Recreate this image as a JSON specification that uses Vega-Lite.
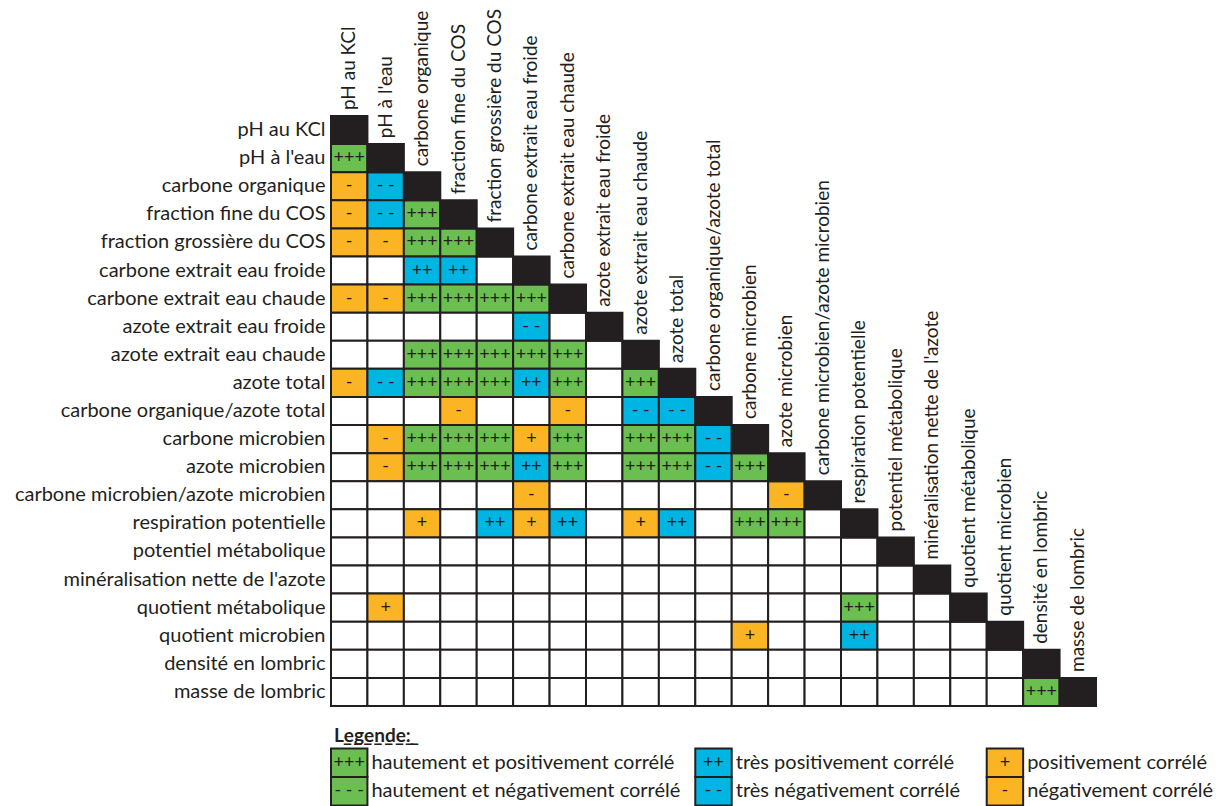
{
  "$schema": "https://vega.github.io/schema/vega-lite/v6.json",
  "background": "white",
  "padding": {"left": 14, "top": 8, "right": 0, "bottom": 0},
  "spacing": 13,
  "config": {"view": {"stroke": null}, "font": "Lato", "text": {"font": "Lato", "color": "#231F20"}},
  "datasets": {
    "variables": [
      {"ligne": "pH au KCl", "colonne": "pH au KCl"},
      {"ligne": "pH à l'eau", "colonne": "pH à l'eau"},
      {"ligne": "carbone organique", "colonne": "carbone organique"},
      {"ligne": "fraction fine du COS", "colonne": "fraction fine du COS"},
      {"ligne": "fraction grossière du COS", "colonne": "fraction grossière du COS"},
      {"ligne": "carbone extrait eau froide", "colonne": "carbone extrait eau froide"},
      {"ligne": "carbone extrait eau chaude", "colonne": "carbone extrait eau chaude"},
      {"ligne": "azote extrait eau froide", "colonne": "azote extrait eau froide"},
      {"ligne": "azote extrait eau chaude", "colonne": "azote extrait eau chaude"},
      {"ligne": "azote total", "colonne": "azote total"},
      {"ligne": "carbone organique/azote total", "colonne": "carbone organique/azote total"},
      {"ligne": "carbone microbien", "colonne": "carbone microbien"},
      {"ligne": "azote microbien", "colonne": "azote microbien"},
      {"ligne": "carbone microbien/azote microbien", "colonne": "carbone microbien/azote microbien"},
      {"ligne": "respiration potentielle", "colonne": "respiration potentielle"},
      {"ligne": "potentiel métabolique", "colonne": "potentiel métabolique"},
      {"ligne": "minéralisation nette de l'azote", "colonne": "minéralisation nette de l'azote"},
      {"ligne": "quotient métabolique", "colonne": "quotient métabolique"},
      {"ligne": "quotient microbien", "colonne": "quotient microbien"},
      {"ligne": "densité en lombric", "colonne": "densité en lombric"},
      {"ligne": "masse de lombric", "colonne": "masse de lombric"}
    ],
    "cellules": [
      {"ligne": "pH à l'eau", "colonne": "pH au KCl", "code": "+++"},

      {"ligne": "carbone organique", "colonne": "pH au KCl", "code": "-"},
      {"ligne": "carbone organique", "colonne": "pH à l'eau", "code": "- -"},

      {"ligne": "fraction fine du COS", "colonne": "pH au KCl", "code": "-"},
      {"ligne": "fraction fine du COS", "colonne": "pH à l'eau", "code": "- -"},
      {"ligne": "fraction fine du COS", "colonne": "carbone organique", "code": "+++"},

      {"ligne": "fraction grossière du COS", "colonne": "pH au KCl", "code": "-"},
      {"ligne": "fraction grossière du COS", "colonne": "pH à l'eau", "code": "-"},
      {"ligne": "fraction grossière du COS", "colonne": "carbone organique", "code": "+++"},
      {"ligne": "fraction grossière du COS", "colonne": "fraction fine du COS", "code": "+++"},

      {"ligne": "carbone extrait eau froide", "colonne": "pH au KCl", "code": ""},
      {"ligne": "carbone extrait eau froide", "colonne": "pH à l'eau", "code": ""},
      {"ligne": "carbone extrait eau froide", "colonne": "carbone organique", "code": "++"},
      {"ligne": "carbone extrait eau froide", "colonne": "fraction fine du COS", "code": "++"},
      {"ligne": "carbone extrait eau froide", "colonne": "fraction grossière du COS", "code": ""},

      {"ligne": "carbone extrait eau chaude", "colonne": "pH au KCl", "code": "-"},
      {"ligne": "carbone extrait eau chaude", "colonne": "pH à l'eau", "code": "-"},
      {"ligne": "carbone extrait eau chaude", "colonne": "carbone organique", "code": "+++"},
      {"ligne": "carbone extrait eau chaude", "colonne": "fraction fine du COS", "code": "+++"},
      {"ligne": "carbone extrait eau chaude", "colonne": "fraction grossière du COS", "code": "+++"},
      {"ligne": "carbone extrait eau chaude", "colonne": "carbone extrait eau froide", "code": "+++"},

      {"ligne": "azote extrait eau froide", "colonne": "pH au KCl", "code": ""},
      {"ligne": "azote extrait eau froide", "colonne": "pH à l'eau", "code": ""},
      {"ligne": "azote extrait eau froide", "colonne": "carbone organique", "code": ""},
      {"ligne": "azote extrait eau froide", "colonne": "fraction fine du COS", "code": ""},
      {"ligne": "azote extrait eau froide", "colonne": "fraction grossière du COS", "code": ""},
      {"ligne": "azote extrait eau froide", "colonne": "carbone extrait eau froide", "code": "- -"},
      {"ligne": "azote extrait eau froide", "colonne": "carbone extrait eau chaude", "code": ""},

      {"ligne": "azote extrait eau chaude", "colonne": "pH au KCl", "code": ""},
      {"ligne": "azote extrait eau chaude", "colonne": "pH à l'eau", "code": ""},
      {"ligne": "azote extrait eau chaude", "colonne": "carbone organique", "code": "+++"},
      {"ligne": "azote extrait eau chaude", "colonne": "fraction fine du COS", "code": "+++"},
      {"ligne": "azote extrait eau chaude", "colonne": "fraction grossière du COS", "code": "+++"},
      {"ligne": "azote extrait eau chaude", "colonne": "carbone extrait eau froide", "code": "+++"},
      {"ligne": "azote extrait eau chaude", "colonne": "carbone extrait eau chaude", "code": "+++"},
      {"ligne": "azote extrait eau chaude", "colonne": "azote extrait eau froide", "code": ""},

      {"ligne": "azote total", "colonne": "pH au KCl", "code": "-"},
      {"ligne": "azote total", "colonne": "pH à l'eau", "code": "- -"},
      {"ligne": "azote total", "colonne": "carbone organique", "code": "+++"},
      {"ligne": "azote total", "colonne": "fraction fine du COS", "code": "+++"},
      {"ligne": "azote total", "colonne": "fraction grossière du COS", "code": "+++"},
      {"ligne": "azote total", "colonne": "carbone extrait eau froide", "code": "++"},
      {"ligne": "azote total", "colonne": "carbone extrait eau chaude", "code": "+++"},
      {"ligne": "azote total", "colonne": "azote extrait eau froide", "code": ""},
      {"ligne": "azote total", "colonne": "azote extrait eau chaude", "code": "+++"},

      {"ligne": "carbone organique/azote total", "colonne": "pH au KCl", "code": ""},
      {"ligne": "carbone organique/azote total", "colonne": "pH à l'eau", "code": ""},
      {"ligne": "carbone organique/azote total", "colonne": "carbone organique", "code": ""},
      {"ligne": "carbone organique/azote total", "colonne": "fraction fine du COS", "code": "-"},
      {"ligne": "carbone organique/azote total", "colonne": "fraction grossière du COS", "code": ""},
      {"ligne": "carbone organique/azote total", "colonne": "carbone extrait eau froide", "code": ""},
      {"ligne": "carbone organique/azote total", "colonne": "carbone extrait eau chaude", "code": "-"},
      {"ligne": "carbone organique/azote total", "colonne": "azote extrait eau froide", "code": ""},
      {"ligne": "carbone organique/azote total", "colonne": "azote extrait eau chaude", "code": "- -"},
      {"ligne": "carbone organique/azote total", "colonne": "azote total", "code": "- -"},

      {"ligne": "carbone microbien", "colonne": "pH au KCl", "code": ""},
      {"ligne": "carbone microbien", "colonne": "pH à l'eau", "code": "-"},
      {"ligne": "carbone microbien", "colonne": "carbone organique", "code": "+++"},
      {"ligne": "carbone microbien", "colonne": "fraction fine du COS", "code": "+++"},
      {"ligne": "carbone microbien", "colonne": "fraction grossière du COS", "code": "+++"},
      {"ligne": "carbone microbien", "colonne": "carbone extrait eau froide", "code": "+"},
      {"ligne": "carbone microbien", "colonne": "carbone extrait eau chaude", "code": "+++"},
      {"ligne": "carbone microbien", "colonne": "azote extrait eau froide", "code": ""},
      {"ligne": "carbone microbien", "colonne": "azote extrait eau chaude", "code": "+++"},
      {"ligne": "carbone microbien", "colonne": "azote total", "code": "+++"},
      {"ligne": "carbone microbien", "colonne": "carbone organique/azote total", "code": "- -"},

      {"ligne": "azote microbien", "colonne": "pH au KCl", "code": ""},
      {"ligne": "azote microbien", "colonne": "pH à l'eau", "code": "-"},
      {"ligne": "azote microbien", "colonne": "carbone organique", "code": "+++"},
      {"ligne": "azote microbien", "colonne": "fraction fine du COS", "code": "+++"},
      {"ligne": "azote microbien", "colonne": "fraction grossière du COS", "code": "+++"},
      {"ligne": "azote microbien", "colonne": "carbone extrait eau froide", "code": "++"},
      {"ligne": "azote microbien", "colonne": "carbone extrait eau chaude", "code": "+++"},
      {"ligne": "azote microbien", "colonne": "azote extrait eau froide", "code": ""},
      {"ligne": "azote microbien", "colonne": "azote extrait eau chaude", "code": "+++"},
      {"ligne": "azote microbien", "colonne": "azote total", "code": "+++"},
      {"ligne": "azote microbien", "colonne": "carbone organique/azote total", "code": "- -"},
      {"ligne": "azote microbien", "colonne": "carbone microbien", "code": "+++"},

      {"ligne": "carbone microbien/azote microbien", "colonne": "pH au KCl", "code": ""},
      {"ligne": "carbone microbien/azote microbien", "colonne": "pH à l'eau", "code": ""},
      {"ligne": "carbone microbien/azote microbien", "colonne": "carbone organique", "code": ""},
      {"ligne": "carbone microbien/azote microbien", "colonne": "fraction fine du COS", "code": ""},
      {"ligne": "carbone microbien/azote microbien", "colonne": "fraction grossière du COS", "code": ""},
      {"ligne": "carbone microbien/azote microbien", "colonne": "carbone extrait eau froide", "code": "-"},
      {"ligne": "carbone microbien/azote microbien", "colonne": "carbone extrait eau chaude", "code": ""},
      {"ligne": "carbone microbien/azote microbien", "colonne": "azote extrait eau froide", "code": ""},
      {"ligne": "carbone microbien/azote microbien", "colonne": "azote extrait eau chaude", "code": ""},
      {"ligne": "carbone microbien/azote microbien", "colonne": "azote total", "code": ""},
      {"ligne": "carbone microbien/azote microbien", "colonne": "carbone organique/azote total", "code": ""},
      {"ligne": "carbone microbien/azote microbien", "colonne": "carbone microbien", "code": ""},
      {"ligne": "carbone microbien/azote microbien", "colonne": "azote microbien", "code": "-"},

      {"ligne": "respiration potentielle", "colonne": "pH au KCl", "code": ""},
      {"ligne": "respiration potentielle", "colonne": "pH à l'eau", "code": ""},
      {"ligne": "respiration potentielle", "colonne": "carbone organique", "code": "+"},
      {"ligne": "respiration potentielle", "colonne": "fraction fine du COS", "code": ""},
      {"ligne": "respiration potentielle", "colonne": "fraction grossière du COS", "code": "++"},
      {"ligne": "respiration potentielle", "colonne": "carbone extrait eau froide", "code": "+"},
      {"ligne": "respiration potentielle", "colonne": "carbone extrait eau chaude", "code": "++"},
      {"ligne": "respiration potentielle", "colonne": "azote extrait eau froide", "code": ""},
      {"ligne": "respiration potentielle", "colonne": "azote extrait eau chaude", "code": "+"},
      {"ligne": "respiration potentielle", "colonne": "azote total", "code": "++"},
      {"ligne": "respiration potentielle", "colonne": "carbone organique/azote total", "code": ""},
      {"ligne": "respiration potentielle", "colonne": "carbone microbien", "code": "+++"},
      {"ligne": "respiration potentielle", "colonne": "azote microbien", "code": "+++"},
      {"ligne": "respiration potentielle", "colonne": "carbone microbien/azote microbien", "code": ""},

      {"ligne": "potentiel métabolique", "colonne": "pH au KCl", "code": ""},
      {"ligne": "potentiel métabolique", "colonne": "pH à l'eau", "code": ""},
      {"ligne": "potentiel métabolique", "colonne": "carbone organique", "code": ""},
      {"ligne": "potentiel métabolique", "colonne": "fraction fine du COS", "code": ""},
      {"ligne": "potentiel métabolique", "colonne": "fraction grossière du COS", "code": ""},
      {"ligne": "potentiel métabolique", "colonne": "carbone extrait eau froide", "code": ""},
      {"ligne": "potentiel métabolique", "colonne": "carbone extrait eau chaude", "code": ""},
      {"ligne": "potentiel métabolique", "colonne": "azote extrait eau froide", "code": ""},
      {"ligne": "potentiel métabolique", "colonne": "azote extrait eau chaude", "code": ""},
      {"ligne": "potentiel métabolique", "colonne": "azote total", "code": ""},
      {"ligne": "potentiel métabolique", "colonne": "carbone organique/azote total", "code": ""},
      {"ligne": "potentiel métabolique", "colonne": "carbone microbien", "code": ""},
      {"ligne": "potentiel métabolique", "colonne": "azote microbien", "code": ""},
      {"ligne": "potentiel métabolique", "colonne": "carbone microbien/azote microbien", "code": ""},
      {"ligne": "potentiel métabolique", "colonne": "respiration potentielle", "code": ""},

      {"ligne": "minéralisation nette de l'azote", "colonne": "pH au KCl", "code": ""},
      {"ligne": "minéralisation nette de l'azote", "colonne": "pH à l'eau", "code": ""},
      {"ligne": "minéralisation nette de l'azote", "colonne": "carbone organique", "code": ""},
      {"ligne": "minéralisation nette de l'azote", "colonne": "fraction fine du COS", "code": ""},
      {"ligne": "minéralisation nette de l'azote", "colonne": "fraction grossière du COS", "code": ""},
      {"ligne": "minéralisation nette de l'azote", "colonne": "carbone extrait eau froide", "code": ""},
      {"ligne": "minéralisation nette de l'azote", "colonne": "carbone extrait eau chaude", "code": ""},
      {"ligne": "minéralisation nette de l'azote", "colonne": "azote extrait eau froide", "code": ""},
      {"ligne": "minéralisation nette de l'azote", "colonne": "azote extrait eau chaude", "code": ""},
      {"ligne": "minéralisation nette de l'azote", "colonne": "azote total", "code": ""},
      {"ligne": "minéralisation nette de l'azote", "colonne": "carbone organique/azote total", "code": ""},
      {"ligne": "minéralisation nette de l'azote", "colonne": "carbone microbien", "code": ""},
      {"ligne": "minéralisation nette de l'azote", "colonne": "azote microbien", "code": ""},
      {"ligne": "minéralisation nette de l'azote", "colonne": "carbone microbien/azote microbien", "code": ""},
      {"ligne": "minéralisation nette de l'azote", "colonne": "respiration potentielle", "code": ""},
      {"ligne": "minéralisation nette de l'azote", "colonne": "potentiel métabolique", "code": ""},

      {"ligne": "quotient métabolique", "colonne": "pH au KCl", "code": ""},
      {"ligne": "quotient métabolique", "colonne": "pH à l'eau", "code": "+"},
      {"ligne": "quotient métabolique", "colonne": "carbone organique", "code": ""},
      {"ligne": "quotient métabolique", "colonne": "fraction fine du COS", "code": ""},
      {"ligne": "quotient métabolique", "colonne": "fraction grossière du COS", "code": ""},
      {"ligne": "quotient métabolique", "colonne": "carbone extrait eau froide", "code": ""},
      {"ligne": "quotient métabolique", "colonne": "carbone extrait eau chaude", "code": ""},
      {"ligne": "quotient métabolique", "colonne": "azote extrait eau froide", "code": ""},
      {"ligne": "quotient métabolique", "colonne": "azote extrait eau chaude", "code": ""},
      {"ligne": "quotient métabolique", "colonne": "azote total", "code": ""},
      {"ligne": "quotient métabolique", "colonne": "carbone organique/azote total", "code": ""},
      {"ligne": "quotient métabolique", "colonne": "carbone microbien", "code": ""},
      {"ligne": "quotient métabolique", "colonne": "azote microbien", "code": ""},
      {"ligne": "quotient métabolique", "colonne": "carbone microbien/azote microbien", "code": ""},
      {"ligne": "quotient métabolique", "colonne": "respiration potentielle", "code": "+++"},
      {"ligne": "quotient métabolique", "colonne": "potentiel métabolique", "code": ""},
      {"ligne": "quotient métabolique", "colonne": "minéralisation nette de l'azote", "code": ""},

      {"ligne": "quotient microbien", "colonne": "pH au KCl", "code": ""},
      {"ligne": "quotient microbien", "colonne": "pH à l'eau", "code": ""},
      {"ligne": "quotient microbien", "colonne": "carbone organique", "code": ""},
      {"ligne": "quotient microbien", "colonne": "fraction fine du COS", "code": ""},
      {"ligne": "quotient microbien", "colonne": "fraction grossière du COS", "code": ""},
      {"ligne": "quotient microbien", "colonne": "carbone extrait eau froide", "code": ""},
      {"ligne": "quotient microbien", "colonne": "carbone extrait eau chaude", "code": ""},
      {"ligne": "quotient microbien", "colonne": "azote extrait eau froide", "code": ""},
      {"ligne": "quotient microbien", "colonne": "azote extrait eau chaude", "code": ""},
      {"ligne": "quotient microbien", "colonne": "azote total", "code": ""},
      {"ligne": "quotient microbien", "colonne": "carbone organique/azote total", "code": ""},
      {"ligne": "quotient microbien", "colonne": "carbone microbien", "code": "+"},
      {"ligne": "quotient microbien", "colonne": "azote microbien", "code": ""},
      {"ligne": "quotient microbien", "colonne": "carbone microbien/azote microbien", "code": ""},
      {"ligne": "quotient microbien", "colonne": "respiration potentielle", "code": "++"},
      {"ligne": "quotient microbien", "colonne": "potentiel métabolique", "code": ""},
      {"ligne": "quotient microbien", "colonne": "minéralisation nette de l'azote", "code": ""},
      {"ligne": "quotient microbien", "colonne": "quotient métabolique", "code": ""},

      {"ligne": "densité en lombric", "colonne": "pH au KCl", "code": ""},
      {"ligne": "densité en lombric", "colonne": "pH à l'eau", "code": ""},
      {"ligne": "densité en lombric", "colonne": "carbone organique", "code": ""},
      {"ligne": "densité en lombric", "colonne": "fraction fine du COS", "code": ""},
      {"ligne": "densité en lombric", "colonne": "fraction grossière du COS", "code": ""},
      {"ligne": "densité en lombric", "colonne": "carbone extrait eau froide", "code": ""},
      {"ligne": "densité en lombric", "colonne": "carbone extrait eau chaude", "code": ""},
      {"ligne": "densité en lombric", "colonne": "azote extrait eau froide", "code": ""},
      {"ligne": "densité en lombric", "colonne": "azote extrait eau chaude", "code": ""},
      {"ligne": "densité en lombric", "colonne": "azote total", "code": ""},
      {"ligne": "densité en lombric", "colonne": "carbone organique/azote total", "code": ""},
      {"ligne": "densité en lombric", "colonne": "carbone microbien", "code": ""},
      {"ligne": "densité en lombric", "colonne": "azote microbien", "code": ""},
      {"ligne": "densité en lombric", "colonne": "carbone microbien/azote microbien", "code": ""},
      {"ligne": "densité en lombric", "colonne": "respiration potentielle", "code": ""},
      {"ligne": "densité en lombric", "colonne": "potentiel métabolique", "code": ""},
      {"ligne": "densité en lombric", "colonne": "minéralisation nette de l'azote", "code": ""},
      {"ligne": "densité en lombric", "colonne": "quotient métabolique", "code": ""},
      {"ligne": "densité en lombric", "colonne": "quotient microbien", "code": ""},

      {"ligne": "masse de lombric", "colonne": "pH au KCl", "code": ""},
      {"ligne": "masse de lombric", "colonne": "pH à l'eau", "code": ""},
      {"ligne": "masse de lombric", "colonne": "carbone organique", "code": ""},
      {"ligne": "masse de lombric", "colonne": "fraction fine du COS", "code": ""},
      {"ligne": "masse de lombric", "colonne": "fraction grossière du COS", "code": ""},
      {"ligne": "masse de lombric", "colonne": "carbone extrait eau froide", "code": ""},
      {"ligne": "masse de lombric", "colonne": "carbone extrait eau chaude", "code": ""},
      {"ligne": "masse de lombric", "colonne": "azote extrait eau froide", "code": ""},
      {"ligne": "masse de lombric", "colonne": "azote extrait eau chaude", "code": ""},
      {"ligne": "masse de lombric", "colonne": "azote total", "code": ""},
      {"ligne": "masse de lombric", "colonne": "carbone organique/azote total", "code": ""},
      {"ligne": "masse de lombric", "colonne": "carbone microbien", "code": ""},
      {"ligne": "masse de lombric", "colonne": "azote microbien", "code": ""},
      {"ligne": "masse de lombric", "colonne": "carbone microbien/azote microbien", "code": ""},
      {"ligne": "masse de lombric", "colonne": "respiration potentielle", "code": ""},
      {"ligne": "masse de lombric", "colonne": "potentiel métabolique", "code": ""},
      {"ligne": "masse de lombric", "colonne": "minéralisation nette de l'azote", "code": ""},
      {"ligne": "masse de lombric", "colonne": "quotient métabolique", "code": ""},
      {"ligne": "masse de lombric", "colonne": "quotient microbien", "code": ""},
      {"ligne": "masse de lombric", "colonne": "densité en lombric", "code": "+++"}
    ],
    "legende": [
      {"rang": "positif", "colonne": "pH au KCl", "code": "+++", "libelle": "hautement et positivement corrélé"},
      {"rang": "négatif", "colonne": "pH au KCl", "code": "- - -", "libelle": "hautement et négativement corrélé"},
      {"rang": "positif", "colonne": "carbone organique/azote total", "code": "++", "libelle": "très positivement corrélé"},
      {"rang": "négatif", "colonne": "carbone organique/azote total", "code": "- -", "libelle": "très négativement corrélé"},
      {"rang": "positif", "colonne": "quotient microbien", "code": "+", "libelle": "positivement corrélé"},
      {"rang": "négatif", "colonne": "quotient microbien", "code": "-", "libelle": "négativement corrélé"}
    ]
  },
  "vconcat": [
    {
      "width": 765,
      "height": 590,
      "encoding": {
        "x": {"field": "colonne", "type": "nominal", "axis": null,
              "scale": {"paddingInner": 0, "paddingOuter": 0, "domain": ["pH au KCl", "pH à l'eau", "carbone organique", "fraction fine du COS", "fraction grossière du COS", "carbone extrait eau froide", "carbone extrait eau chaude", "azote extrait eau froide", "azote extrait eau chaude", "azote total", "carbone organique/azote total", "carbone microbien", "azote microbien", "carbone microbien/azote microbien", "respiration potentielle", "potentiel métabolique", "minéralisation nette de l'azote", "quotient métabolique", "quotient microbien", "densité en lombric", "masse de lombric"]}},
        "y": {"field": "ligne", "type": "nominal",
              "axis": {"title": null, "ticks": false, "domain": false, "labelPadding": 6, "labelFontSize": 20, "labelFont": "Lato", "labelColor": "#231F20", "labelLimit": 500},
              "scale": {"paddingInner": 0, "paddingOuter": 0, "domain": ["pH au KCl", "pH à l'eau", "carbone organique", "fraction fine du COS", "fraction grossière du COS", "carbone extrait eau froide", "carbone extrait eau chaude", "azote extrait eau froide", "azote extrait eau chaude", "azote total", "carbone organique/azote total", "carbone microbien", "azote microbien", "carbone microbien/azote microbien", "respiration potentielle", "potentiel métabolique", "minéralisation nette de l'azote", "quotient métabolique", "quotient microbien", "densité en lombric", "masse de lombric"]}}
      },
      "layer": [
        {
          "data": {"name": "cellules"},
          "mark": {"type": "rect", "stroke": "#231F20", "strokeWidth": 2},
          "encoding": {
            "fill": {"field": "code", "type": "nominal", "legend": null,
                     "scale": {"domain": ["+++", "- - -", "++", "- -", "+", "-", ""], "range": ["#6BBE50", "#6BBE50", "#00B5E2", "#00B5E2", "#FBB524", "#FBB524", "#FFFFFF"]}}
          }
        },
        {
          "data": {"name": "cellules"},
          "mark": {"type": "text", "fontSize": 18, "baseline": "middle", "align": "center", "color": "#231F20"},
          "encoding": {"text": {"field": "code"}}
        },
        {
          "data": {"name": "variables"},
          "mark": {"type": "rect", "fill": "#231F20", "stroke": "#231F20", "strokeWidth": 2}
        },
        {
          "data": {"name": "variables"},
          "mark": {"type": "text", "angle": 270, "align": "left", "baseline": "middle", "dx": 20, "fontSize": 19, "color": "#231F20"},
          "encoding": {"text": {"field": "colonne"}}
        }
      ]
    },
    {
      "width": 765,
      "height": 85.5,
      "data": {"name": "legende"},
      "encoding": {
        "x": {"field": "colonne", "type": "nominal", "axis": null,
              "scale": {"paddingInner": 0, "paddingOuter": 0, "domain": ["pH au KCl", "pH à l'eau", "carbone organique", "fraction fine du COS", "fraction grossière du COS", "carbone extrait eau froide", "carbone extrait eau chaude", "azote extrait eau froide", "azote extrait eau chaude", "azote total", "carbone organique/azote total", "carbone microbien", "azote microbien", "carbone microbien/azote microbien", "respiration potentielle", "potentiel métabolique", "minéralisation nette de l'azote", "quotient métabolique", "quotient microbien", "densité en lombric", "masse de lombric"]}},
        "y": {"field": "rang", "type": "nominal", "axis": null,
              "scale": {"paddingInner": 0, "paddingOuter": 0, "domain": ["titre", "positif", "négatif"]}}
      },
      "layer": [
        {
          "mark": {"type": "rect", "stroke": "#231F20", "strokeWidth": 2},
          "encoding": {
            "fill": {"field": "code", "type": "nominal", "legend": null,
                     "scale": {"domain": ["+++", "- - -", "++", "- -", "+", "-", ""], "range": ["#6BBE50", "#6BBE50", "#00B5E2", "#00B5E2", "#FBB524", "#FBB524", "#FFFFFF"]}}
          }
        },
        {
          "mark": {"type": "text", "fontSize": 18, "baseline": "middle", "align": "center", "color": "#231F20"},
          "encoding": {"text": {"field": "code"}}
        },
        {
          "mark": {"type": "text", "fontSize": 20, "baseline": "middle", "align": "left", "dx": 4, "color": "#231F20"},
          "encoding": {
            "x": {"field": "colonne", "type": "nominal", "bandPosition": 1, "axis": null,
                  "scale": {"paddingInner": 0, "paddingOuter": 0, "domain": ["pH au KCl", "pH à l'eau", "carbone organique", "fraction fine du COS", "fraction grossière du COS", "carbone extrait eau froide", "carbone extrait eau chaude", "azote extrait eau froide", "azote extrait eau chaude", "azote total", "carbone organique/azote total", "carbone microbien", "azote microbien", "carbone microbien/azote microbien", "respiration potentielle", "potentiel métabolique", "minéralisation nette de l'azote", "quotient métabolique", "quotient microbien", "densité en lombric", "masse de lombric"]}},
            "text": {"field": "libelle"}
          }
        },
        {
          "data": {"values": [{"rang": "titre", "colonne": "pH au KCl", "titre": "L\u0332e\u0332g\u0332e\u0332n\u0332d\u0332e\u0332:\u0332"}]},
          "mark": {"type": "text", "fontSize": 19, "fontWeight": "bold", "baseline": "alphabetic", "align": "left", "dx": 3, "dy": 8, "color": "#231F20"},
          "encoding": {
            "x": {"field": "colonne", "type": "nominal", "bandPosition": 0, "axis": null,
                  "scale": {"paddingInner": 0, "paddingOuter": 0, "domain": ["pH au KCl", "pH à l'eau", "carbone organique", "fraction fine du COS", "fraction grossière du COS", "carbone extrait eau froide", "carbone extrait eau chaude", "azote extrait eau froide", "azote extrait eau chaude", "azote total", "carbone organique/azote total", "carbone microbien", "azote microbien", "carbone microbien/azote microbien", "respiration potentielle", "potentiel métabolique", "minéralisation nette de l'azote", "quotient métabolique", "quotient microbien", "densité en lombric", "masse de lombric"]}},
            "text": {"field": "titre"}
          }
        }
      ]
    }
  ]
}
